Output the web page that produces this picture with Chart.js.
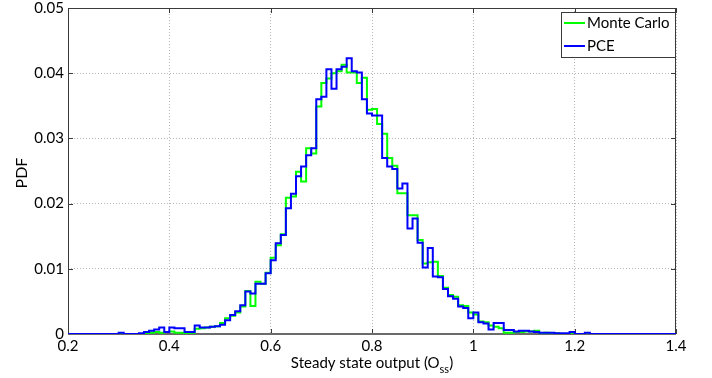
<!DOCTYPE html>
<html>
<head>
<meta charset="utf-8">
<script src="https://cdn.jsdelivr.net/npm/chart.js@4/dist/chart.umd.min.js"></script>
<style>
  html, body { margin: 0; padding: 0; background: #fff; }
  canvas { display: block; }
</style>
</head>
<body>
<canvas id="c" width="712" height="378" style="width:712px;height:378px"></canvas>
<script>
// ---- data (histogram bins of width 0.01 starting at 0.20) ----
const binStart = 0.20;
const binWidth = 0.01;
const seriesNames = ['Monte Carlo', 'PCE'];
const xTickValues = [0.2, 0.4, 0.6, 0.8, 1.0, 1.2, 1.4];
const yTickValues = [0, 0.01, 0.02, 0.03, 0.04, 0.05];

const monteCarloPdf = [
  0,0,0,0,0,0,0,0,0,0,0,0,0,0,0,0,
  0.0001,0.0002,0.0003,0.0002,0.0003,0.0004,0.0002,0.0002,0.0001,0.0002,
  0.0008,0.0009,0.0010,0.0011,0.0012,0.0017,0.0024,0.0028,0.0033,0.0042,
  0.0066,0.0043,0.0080,0.0077,0.0094,0.0117,0.0136,0.0153,0.0209,0.0211,
  0.0249,0.0234,0.0285,0.0277,0.0349,0.0385,0.0392,0.0400,0.0403,0.0413,
  0.0401,0.0401,0.0385,0.0393,0.0344,0.0345,0.0322,0.0307,0.0270,0.0258,
  0.0216,0.0216,0.0182,0.0182,0.0144,0.0108,0.0110,0.0111,0.0089,0.0071,
  0.0060,0.0057,0.0044,0.0043,0.0033,0.0030,0.0019,0.0018,0.0013,0.0011,
  0.0009,0.0002,0.0002,0.0003,0.0003,0.0004,0.0004,0.0005,0.0001,0.0002,
  0.0001,0.0001,
  0,0,0,0,0,0,0,0,0,0,0,0,0,0,0,0,0,0,0,0,0,0
];

const pcePdf = [
  0,0,0,0,0,0,0,0,0,0,0,
  0.0002,0,0,0,0.0001,0.0003,0.0005,0.0007,0.0010,0.0003,
  0.0010,0.0009,0.0009,0.0003,0.0003,0.0013,0.0010,0.0010,0.0011,0.0012,
  0.0014,0.0021,0.0029,0.0035,0.0044,0.0065,0.0062,0.0077,0.0077,0.0093,
  0.0113,0.0139,0.0152,0.0193,0.0215,0.0242,0.0257,0.0274,0.0285,0.0360,
  0.0364,0.0406,0.0376,0.0406,0.0410,0.0423,0.0403,0.0401,0.0360,0.0338,
  0.0335,0.0335,0.0270,0.0257,0.0253,0.0223,0.0231,0.0162,0.0177,0.0140,
  0.0102,0.0132,0.0088,0.0087,0.0069,0.0058,0.0054,0.0042,0.0040,0.0024,
  0.0033,0.0018,0.0016,0.0007,0.0017,0.0017,0.0006,0.0006,0.0004,0.0005,
  0.0005,0.0004,0.0003,0.0002,0.0002,0.0002,0.0001,0.0001,0.0001,0.0003,
  0,0,0.0002,
  0,0,0,0,0,0,0,0,0,0,0,0,0,0,0,0
];

// stepped histogram points: left edges of each bin + closing right edge
function toSteps(values) {
  const pts = values.map((v, i) => ({ x: +(binStart + i * binWidth).toFixed(2), y: v }));
  pts.push({ x: +(binStart + values.length * binWidth).toFixed(2), y: values[values.length - 1] });
  return pts;
}

const FONT = 'Lato, "Open Sans", sans-serif';
Chart.defaults.font.family = FONT;
Chart.defaults.color = '#000';

const framePlugin = {
  id: 'frame',
  beforeDatasetsDraw(chart) {
    const { ctx, chartArea: a, scales: { x, y } } = chart;
    ctx.save();
    ctx.strokeStyle = '#3a3a3a';
    ctx.lineWidth = 1;
    ctx.beginPath();
    // inward ticks
    xTickValues.forEach(v => {
      const px = Math.round(x.getPixelForValue(v)) + 0.5;
      ctx.moveTo(px, a.bottom); ctx.lineTo(px, a.bottom - 5);
      ctx.moveTo(px, a.top); ctx.lineTo(px, a.top + 5);
    });
    yTickValues.forEach(v => {
      const py = Math.round(y.getPixelForValue(v)) + 0.5;
      ctx.moveTo(a.left, py); ctx.lineTo(a.left + 5, py);
      ctx.moveTo(a.right, py); ctx.lineTo(a.right - 5, py);
    });
    ctx.stroke();
    ctx.strokeStyle = '#3a3a3a';
    ctx.strokeRect(Math.round(a.left) + 0.5, Math.round(a.top) + 0.5,
                   Math.round(a.right - a.left) - 1, Math.round(a.bottom - a.top) - 1);
    ctx.strokeStyle = '#6b6b6b';
    ctx.lineWidth = 2;
    ctx.beginPath();
    ctx.moveTo(a.left, Math.round(a.bottom));
    ctx.lineTo(a.right, Math.round(a.bottom));
    ctx.stroke();
    ctx.restore();
  },
  afterDraw(chart) {
    const { ctx, chartArea: a } = chart;
    ctx.save();
    // legend box
    const lx = 561, ly = 12, lw = 114, lh = 45;
    ctx.fillStyle = '#fff';
    ctx.fillRect(lx, ly, lw, lh);
    ctx.strokeStyle = '#3a3a3a';
    ctx.lineWidth = 1;
    ctx.strokeRect(lx + 0.5, ly + 0.5, lw, lh);
    const ds = chart.data.datasets;
    ds.forEach((d, i) => {
      const cy = ly + 11 + i * 23;
      ctx.strokeStyle = d.borderColor;
      ctx.lineWidth = 2;
      ctx.beginPath();
      ctx.moveTo(lx + 3, cy);
      ctx.lineTo(lx + 24, cy);
      ctx.stroke();
      ctx.fillStyle = '#000';
      ctx.font = '15px ' + FONT;
      ctx.textAlign = 'left';
      ctx.textBaseline = 'middle';
      ctx.fillText(d.label, lx + 26, cy);
    });
    // x title with subscript
    ctx.fillStyle = '#000';
    ctx.textBaseline = 'alphabetic';
    const main = 'Steady state output (O';
    const sub = 'ss';
    const close = ')';
    ctx.font = '15px ' + FONT;
    const w1 = ctx.measureText(main).width;
    const w3 = ctx.measureText(close).width;
    ctx.font = '11px ' + FONT;
    const w2 = ctx.measureText(sub).width;
    const cx = (a.left + a.right) / 2;
    let sx = cx - (w1 + w2 + w3) / 2;
    const base = 368;
    ctx.font = '15px ' + FONT;
    ctx.textAlign = 'left';
    ctx.fillText(main, sx, base);
    ctx.font = '11px ' + FONT;
    ctx.fillText(sub, sx + w1, base + 5);
    ctx.font = '15px ' + FONT;
    ctx.fillText(close, sx + w1 + w2, base);
    // y title
    ctx.save();
    ctx.translate(22, 173);
    ctx.rotate(-Math.PI / 2);
    ctx.font = '16px ' + FONT;
    ctx.textAlign = 'center';
    ctx.textBaseline = 'middle';
    ctx.fillText('PDF', 0, 0);
    ctx.restore();
    ctx.restore();
  }
};

new Chart(document.getElementById('c'), {
  type: 'line',
  data: {
    datasets: [
      { label: seriesNames[0], data: toSteps(monteCarloPdf), stepped: 'after',
        borderColor: '#00ff00', borderWidth: 2, pointRadius: 0, fill: false, order: 1 },
      { label: seriesNames[1], data: toSteps(pcePdf), stepped: 'after',
        borderColor: '#0000ff', borderWidth: 2, pointRadius: 0, fill: false, order: 0 }
    ]
  },
  options: {
    responsive: false,
    devicePixelRatio: 1,
    animation: false,
    layout: { padding: { top: 8, right: 36, left: 0, bottom: 0 } },
    plugins: { legend: { display: false }, tooltip: { enabled: false } },
    scales: {
      x: {
        type: 'linear', min: 0.2, max: 1.4,
        afterBuildTicks: s => { s.ticks = xTickValues.map(v => ({ value: v })); },
        afterFit: s => { s.height = 44; s.paddingLeft = 0; s.paddingRight = 0; s.paddingTop = 0; s.paddingBottom = 0; },
        ticks: { padding: 3, font: { size: 15 }, color: '#000', maxRotation: 0,
                 callback: v => String(+(+v).toFixed(1)) },
        grid: { color: '#b5b5b5', lineWidth: 1, drawTicks: false },
        border: { display: false, dash: [1, 2] }
      },
      y: {
        type: 'linear', min: 0, max: 0.05,
        afterBuildTicks: s => { s.ticks = yTickValues.map(v => ({ value: v })); },
        afterFit: s => { s.width = 68; s.paddingLeft = 0; s.paddingRight = 0; s.paddingTop = 0; s.paddingBottom = 0; },
        ticks: { padding: 4, font: { size: 15 }, color: '#000',
                 callback: v => (v === 0 ? '0' : (+v).toFixed(2)) },
        grid: { color: '#b5b5b5', lineWidth: 1, drawTicks: false },
        border: { display: false, dash: [1, 2] }
      }
    }
  },
  plugins: [framePlugin]
});
</script>
</body>
</html>
